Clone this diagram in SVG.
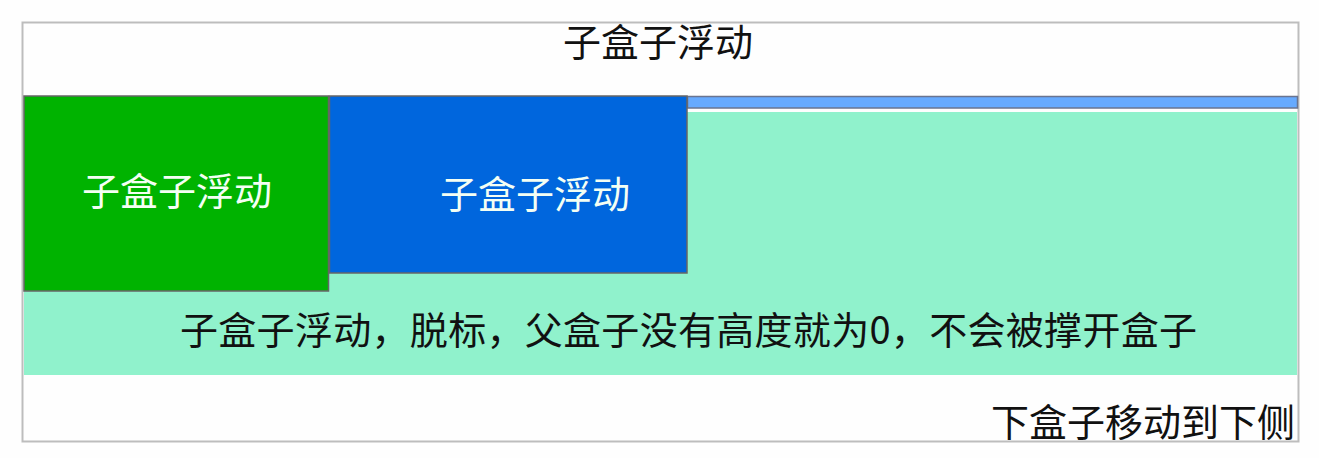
<svg xmlns="http://www.w3.org/2000/svg" width="1319" height="458" viewBox="0 0 1319 458">
<style>
.t{font-family:"Microsoft YaHei","Noto Sans CJK SC",sans-serif;font-size:38px}
.dark{fill:#111}
.light{fill:#f4fff4}
</style>
<rect x="0" y="0" width="1319" height="458" fill="#fefefe"/>
<g id="parent">
<rect x="22.5" y="22.5" width="1276" height="419" fill="#fefefe" stroke="#bdbdbd" stroke-width="2"/>
<text class="t dark" x="658" y="56" text-anchor="middle">子盒子浮动</text>
</g>
<g id="bottom-box">
<rect x="24" y="112" width="1273" height="263" fill="#90f2cc"/>
<rect x="687.5" y="96.5" width="610" height="11.5" fill="#66aaff" stroke="#6a7490" stroke-width="1.5"/>
<text class="t dark" x="180" y="344" textLength="1017" lengthAdjust="spacing">子盒子浮动，脱标，父盒子没有高度就为0，不会被撑开盒子</text>
</g>
<g id="green-box">
<rect x="24" y="96" width="304.5" height="195" fill="#00b300" stroke="#666" stroke-width="1.5"/>
<text class="t light" x="177" y="205" text-anchor="middle">子盒子浮动</text>
</g>
<g id="blue-box">
<rect x="329.5" y="96" width="357.5" height="177" fill="#0066dd" stroke="#666" stroke-width="1.5"/>
<text class="t light" x="535" y="208" text-anchor="middle">子盒子浮动</text>
</g>
<g id="next-box">
<text class="t dark" x="1295" y="436" text-anchor="end">下盒子移动到下侧</text>
</g>
</svg>
